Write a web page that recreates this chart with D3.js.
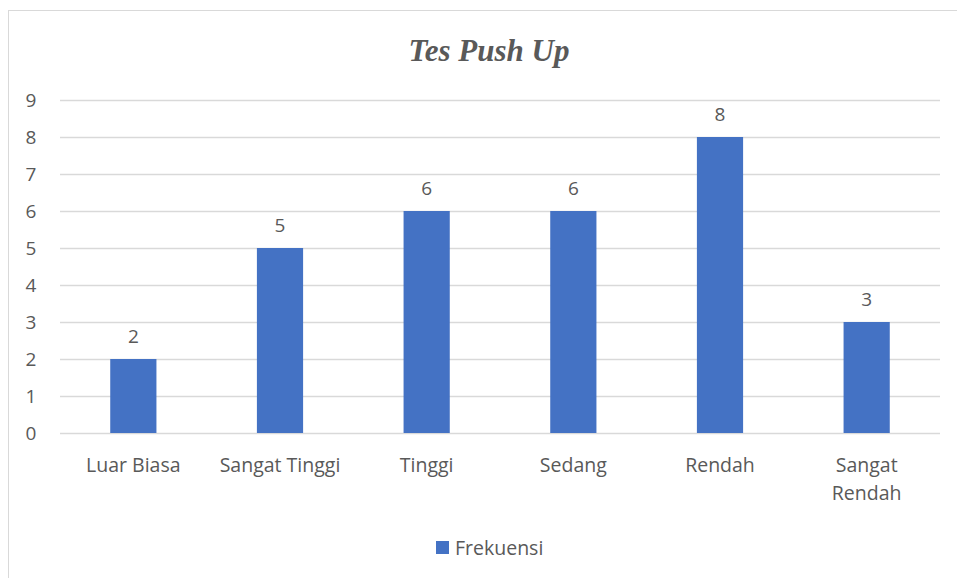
<!DOCTYPE html>
<html>
<head>
<meta charset="utf-8">
<script src="https://cdn.jsdelivr.net/npm/d3@7"></script>
<style>
  body { margin: 0; background: #fff; }
  text { font-family: "Open Sans", "Noto Sans", sans-serif; fill: #595959; }
</style>
</head>
<body>
<div id="chart"></div>
<script>
// Data
const categories = ["Luar Biasa", "Sangat Tinggi", "Tinggi", "Sedang", "Rendah", "Sangat Rendah"];
const frekuensi = [2, 5, 6, 6, 8, 3];
const seriesName = "Frekuensi";
const yTicks = [0, 1, 2, 3, 4, 5, 6, 7, 8, 9];

const width = 957;
const height = 578;
const plot = { left: 60, right: 940, top: 100, bottom: 433 };
const barColor = "#4472C4";

const svg = d3.select("#chart").append("svg")
    .attr("width", width)
    .attr("height", height);

// chart frame
svg.append("rect")
    .attr("x", 8.5).attr("y", 10.5)
    .attr("width", 960).attr("height", 580)
    .attr("fill", "#fff")
    .attr("stroke", "#d9d9d9");

// Title
svg.append("text")
    .attr("x", 489).attr("y", 61)
    .attr("text-anchor", "middle")
    .style("font-family", "'Liberation Serif', 'Times New Roman', serif")
    .style("font-size", "31px")
    .style("font-weight", "bold")
    .style("font-style", "italic")
    .text("Tes Push Up");

const x = d3.scaleBand()
    .domain(categories)
    .range([plot.left, plot.right])
    .paddingInner(0.685)
    .paddingOuter(0.3425);

const y = d3.scaleLinear()
    .domain([0, 9])
    .range([plot.bottom, plot.top]);

// Gridlines
svg.append("g")
    .selectAll("line")
    .data(yTicks)
    .enter().append("line")
    .attr("x1", plot.left).attr("x2", plot.right)
    .attr("y1", d => Math.round(y(d)) + 0.5)
    .attr("y2", d => Math.round(y(d)) + 0.5)
    .attr("stroke", "#d9d9d9")
    .attr("stroke-width", 1.5);

// Y axis labels
const yAxis = d3.axisLeft(y).tickValues(yTicks).tickSize(0).tickPadding(0);
const yg = svg.append("g")
    .attr("transform", `translate(${plot.left - 29},0)`)
    .call(yAxis);
yg.select(".domain").remove();
yg.selectAll("text")
    .attr("text-anchor", "middle")
    .style("font-size", "19px")
    .style("fill", "#595959");

// Bars
svg.selectAll(".bar")
    .data(frekuensi)
    .enter().append("rect")
    .attr("class", "bar")
    .attr("x", (d, i) => x(categories[i]))
    .attr("y", d => y(d))
    .attr("width", x.bandwidth())
    .attr("height", d => y(0) - y(d))
    .attr("fill", barColor);

// Data labels
svg.selectAll(".label")
    .data(frekuensi)
    .enter().append("text")
    .attr("class", "label")
    .attr("x", (d, i) => x(categories[i]) + x.bandwidth() / 2)
    .attr("y", d => y(d) - 16)
    .attr("text-anchor", "middle")
    .style("font-size", "19px")
    .text(d => d);

// X axis labels (long ones wrap onto two lines)
const xg = svg.append("g");
categories.forEach(c => {
    const cx = x(c) + x.bandwidth() / 2;
    const words = c === "Sangat Rendah" ? c.split(" ") : [c];
    const t = xg.append("text")
        .attr("x", cx)
        .attr("y", 472)
        .attr("text-anchor", "middle")
        .style("font-size", "19.5px");
    words.forEach((w, i) => {
        t.append("tspan").attr("x", cx).attr("dy", i === 0 ? 0 : 28).text(w);
    });
});

// Legend
const legend = svg.append("g").attr("transform", "translate(436,541)");
legend.append("rect")
    .attr("width", 13).attr("height", 13)
    .attr("fill", barColor);
legend.append("text")
    .attr("x", 19).attr("y", 14)
    .style("font-size", "19.5px")
    .text(seriesName);
</script>
</body>
</html>
